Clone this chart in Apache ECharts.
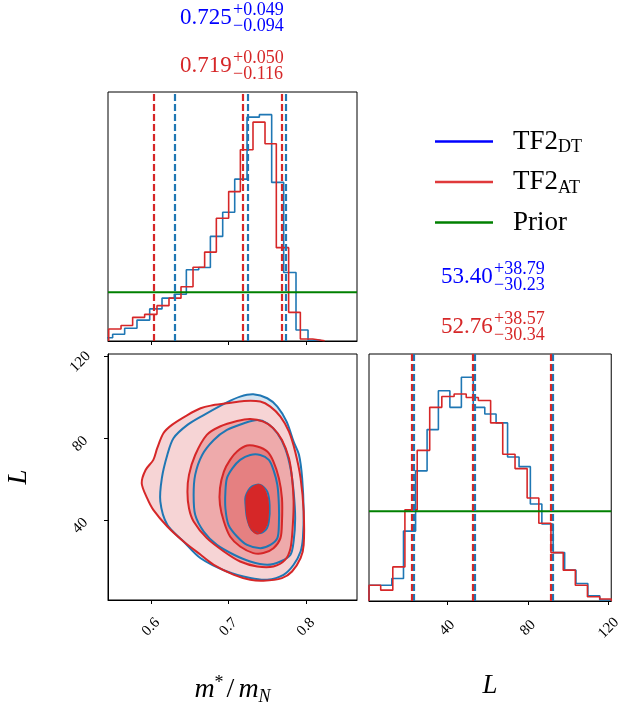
<!DOCTYPE html>
<html>
<head>
<meta charset="utf-8">
<script src="https://cdn.jsdelivr.net/npm/echarts@6/dist/echarts.min.js"></script>
<style>
html, body { margin: 0; padding: 0; background: #fff; }
#main { width: 624px; height: 707px; }
</style>
</head>
<body>
<div id="main"></div>
<script>
// axis limits and ticks
const mRange = [0.5445, 0.8658];
const LRange = [1.2, 121.3];
const mTicks = [0.6, 0.7, 0.8];
const LTicks = [40, 80, 120];

// m*/mN histograms (bin edges + heights, normalised)
const mEdgesDT = [0.5346, 0.5505, 0.5660, 0.5819, 0.5983, 0.6142, 0.6301, 0.6456, 0.6615, 0.6766, 0.6925, 0.7080, 0.7239, 0.7398, 0.7557, 0.7712, 0.7871, 0.8026, 0.8185];
const mHistDT = [0.013, 0.027, 0.051, 0.084, 0.129, 0.172, 0.188, 0.286, 0.295, 0.420, 0.517, 0.650, 0.899, 0.909, 0.637, 0.275, 0.044, 0.003];
const mEdgesAT = [0.5454, 0.5613, 0.5763, 0.5918, 0.6077, 0.6232, 0.6387, 0.6542, 0.6692, 0.6843, 0.7002, 0.7153, 0.7316, 0.7471, 0.7617, 0.7776, 0.7927, 0.8086, 0.8241];
const mHistAT = [0.048, 0.062, 0.095, 0.107, 0.142, 0.172, 0.218, 0.296, 0.357, 0.493, 0.600, 0.768, 0.879, 0.792, 0.375, 0.115, 0.008, 0.001];

// L histograms
const LEdgesDT = [1.2, 6.9, 12.5, 18.3, 24.3, 30.0, 35.6, 41.3, 47.0, 52.9, 58.6, 64.2, 69.9, 75.6, 81.2, 86.9, 92.5, 98.2, 103.8, 109.7, 115.6, 121.3];
const LHistDT = [0.064, 0.064, 0.091, 0.283, 0.527, 0.694, 0.851, 0.784, 0.906, 0.784, 0.757, 0.721, 0.583, 0.544, 0.393, 0.312, 0.196, 0.125, 0.071, 0.021, 0.004];
const LEdgesAT = [1.2, 7.0, 13.0, 19.0, 25.1, 31.3, 37.3, 43.4, 49.4, 55.4, 61.5, 67.5, 73.6, 79.6, 85.4, 91.4, 97.5, 103.5, 109.5, 115.6, 121.3];
const LHistAT = [0.064, 0.044, 0.138, 0.369, 0.610, 0.784, 0.828, 0.838, 0.824, 0.812, 0.721, 0.594, 0.536, 0.417, 0.315, 0.196, 0.125, 0.064, 0.017, 0.008];

// quantiles (16%, 50%, 84%)
const mQuantDT = [0.631, 0.725, 0.774];
const mQuantAT = [0.603, 0.719, 0.769];
const LQuantDT = [23.17, 53.40, 92.19];
const LQuantAT = [22.42, 52.76, 91.33];

// flat prior level in each 1D panel
const mPrior = 0.196;
const LPrior = 0.363;

// 2D contours [m*/mN, L]
const blueOuter = [[0.614, 60.7], [0.621, 72.0], [0.629, 80.2], [0.647, 86.7], [0.668, 91.5], [0.698, 97.7], [0.715, 100.5], [0.732, 101.6], [0.750, 99.7], [0.763, 95.6], [0.775, 88.3], [0.784, 78.5], [0.791, 72.0], [0.795, 60.7], [0.797, 44.4], [0.796, 31.4], [0.793, 24.9], [0.784, 18.4], [0.771, 13.5], [0.750, 11.1], [0.728, 11.9], [0.698, 15.1], [0.664, 21.6], [0.642, 29.8], [0.621, 37.9], [0.612, 49.3]];
const blueMid = [[0.655, 52.5], [0.657, 62.3], [0.666, 72.0], [0.681, 79.3], [0.698, 84.2], [0.720, 87.5], [0.737, 89.1], [0.750, 87.5], [0.763, 82.6], [0.773, 75.3], [0.780, 65.5], [0.784, 54.1], [0.786, 41.1], [0.784, 29.8], [0.780, 23.3], [0.767, 20.0], [0.750, 18.4], [0.728, 20.0], [0.707, 23.3], [0.685, 28.1], [0.668, 34.6], [0.657, 42.8]];
const blueIn = [[0.696, 54.1], [0.698, 60.7], [0.705, 65.5], [0.715, 69.6], [0.728, 72.0], [0.741, 72.0], [0.752, 69.6], [0.758, 64.7], [0.763, 57.4], [0.765, 47.6], [0.765, 37.9], [0.763, 31.4], [0.754, 28.1], [0.741, 26.5], [0.724, 28.1], [0.711, 32.2], [0.700, 37.9], [0.696, 46.0]];
const blueCore = [[0.722, 51.7], [0.730, 56.6], [0.741, 57.4], [0.750, 54.1], [0.753, 47.6], [0.752, 39.5], [0.748, 35.4], [0.739, 33.8], [0.730, 35.4], [0.724, 41.1], [0.722, 47.6]];
const redOuter = [[0.588, 58.2], [0.593, 64.7], [0.603, 69.6], [0.608, 75.3], [0.616, 82.6], [0.627, 86.7], [0.647, 91.5], [0.664, 94.8], [0.677, 96.1], [0.698, 97.2], [0.720, 98.4], [0.741, 98.1], [0.754, 95.6], [0.767, 90.7], [0.778, 83.4], [0.786, 73.7], [0.793, 60.7], [0.797, 44.4], [0.797, 28.1], [0.793, 21.6], [0.782, 15.1], [0.769, 11.9], [0.745, 10.6], [0.728, 11.1], [0.707, 13.5], [0.681, 18.4], [0.664, 23.3], [0.642, 29.8], [0.621, 37.1], [0.603, 45.2], [0.595, 50.9]];
const redMid = [[0.647, 54.1], [0.649, 62.3], [0.657, 72.0], [0.672, 81.8], [0.689, 85.9], [0.711, 88.6], [0.728, 89.6], [0.745, 88.3], [0.758, 85.0], [0.769, 79.3], [0.778, 70.4], [0.782, 60.7], [0.784, 49.3], [0.783, 37.9], [0.780, 26.5], [0.773, 20.8], [0.758, 17.6], [0.737, 17.6], [0.715, 20.0], [0.694, 24.9], [0.672, 31.4], [0.655, 39.5], [0.649, 46.0]];
const redIn = [[0.689, 55.8], [0.694, 63.9], [0.702, 69.6], [0.711, 73.7], [0.724, 76.6], [0.737, 76.1], [0.750, 73.7], [0.758, 68.8], [0.765, 60.7], [0.769, 50.9], [0.769, 39.5], [0.767, 31.4], [0.758, 26.5], [0.745, 24.1], [0.732, 24.1], [0.715, 27.3], [0.702, 32.2], [0.694, 39.5], [0.689, 47.6]];
const redCore = [[0.724, 52.5], [0.730, 55.8], [0.739, 57.4], [0.745, 55.8], [0.750, 50.9], [0.751, 44.4], [0.749, 37.9], [0.743, 34.6], [0.736, 33.8], [0.728, 37.1], [0.724, 42.8], [0.723, 49.3]];

const BLUE = '#1f77b4';
const RED = '#d62728';
const GREEN = '#008000';
const SERIF = '"Liberation Serif", "DejaVu Serif", serif';

// step outline of a histogram: horizontal at each bin height
function steps(edges, h) {
  const pts = [[edges[0], 0]];
  h.forEach((v, i) => pts.push([edges[i], v]));
  pts.push([edges[edges.length - 1], h[h.length - 1]]);
  pts.push([edges[edges.length - 1], 0]);
  return pts;
}

function quantLines(vals, color) {
  return {
    symbol: 'none', silent: true, animation: false, precision: 5,
    label: { show: false },
    lineStyle: { color: color, width: 2.2, type: [7, 3] },
    data: vals.map(v => ({ xAxis: v }))
  };
}

function histSeries(name, xi, edges, h, color, quants, z) {
  return {
    name: name, type: 'line', step: 'end',
    xAxisIndex: xi, yAxisIndex: xi,
    data: steps(edges, h),
    symbol: 'none',
    lineStyle: { color: color, width: 1.6 },
    itemStyle: { color: color },
    markLine: quantLines(quants, color),
    z: z
  };
}

const nameRich = {
  i: { fontFamily: SERIF, fontStyle: 'italic', fontSize: 28, lineHeight: 32, color: '#000' },
  r: { fontFamily: SERIF, fontSize: 28, lineHeight: 32, color: '#000', padding: [0, 4, 0, 3] },
  s: { fontFamily: SERIF, fontSize: 18, lineHeight: 22, verticalAlign: 'top', color: '#000' },
  b: { fontFamily: SERIF, fontStyle: 'italic', fontSize: 18, lineHeight: 20, verticalAlign: 'bottom', color: '#000' },
  L: { fontFamily: SERIF, fontStyle: 'italic', fontSize: 27, lineHeight: 32, color: '#000' }
};

function axisX(grid, range, ticks, labels, name, gap) {
  return {
    type: 'value', gridIndex: grid, min: range[0], max: range[1],
    axisLine: { show: true, onZero: false, lineStyle: { color: '#000', width: 1 } },
    axisTick: { show: true, length: 4, customValues: ticks, lineStyle: { color: '#000' } },
    axisLabel: {
      show: labels, customValues: ticks, rotate: 45, align: 'center', verticalAlign: 'middle',
      margin: 27, fontFamily: SERIF, fontSize: 15, color: '#000'
    },
    splitLine: { show: false },
    name: name, nameLocation: 'middle', nameGap: gap,
    nameTextStyle: { rich: nameRich }
  };
}

const layers = [
  { poly: blueOuter, fill: '#d6e4f0' },
  { poly: redOuter, fill: '#f6d4d5' },
  { poly: redMid, fill: '#eeaaab' },
  { poly: redIn, fill: '#e58081' },
  { poly: redCore, fill: RED },
  { poly: blueOuter, stroke: BLUE },
  { poly: blueMid, stroke: BLUE },
  { poly: blueIn, stroke: BLUE },
  { poly: blueCore, stroke: BLUE },
  { poly: redOuter, stroke: RED },
  { poly: redMid, stroke: RED },
  { poly: redIn, stroke: RED },
  { poly: redCore, stroke: RED }
];

// central value with stacked upper / lower errors
function errText(x, y, main, up, lo, color) {
  return [
    { type: 'text', x: x, y: y, style: { text: main, font: '23px ' + SERIF, fill: color, textVerticalAlign: 'middle' } },
    { type: 'text', x: x + 53, y: y - 8, style: { text: up, font: '18px ' + SERIF, fill: color, textVerticalAlign: 'middle' } },
    { type: 'text', x: x + 53, y: y + 8, style: { text: lo, font: '18px ' + SERIF, fill: color, textVerticalAlign: 'middle' } }
  ];
}

const chart = echarts.init(document.getElementById('main'));
chart.setOption({
  animation: false,
  backgroundColor: '#fff',
  grid: [
    { left: 108, top: 92, width: 249, height: 249, show: true, borderColor: '#000', borderWidth: 1 },
    { left: 108, top: 354, width: 249, height: 247, show: true, borderColor: '#000', borderWidth: 1 },
    { left: 369, top: 354, width: 248, height: 247, show: true, borderColor: '#000', borderWidth: 1 }
  ],
  xAxis: [
    axisX(0, mRange, mTicks, false, '', 0),
    axisX(1, mRange, mTicks, true, '{i|m}{s|*}{r|/}{i|m}{b|N}', 74),
    axisX(2, LRange, LTicks, true, '{L|L}', 69)
  ],
  yAxis: [
    { type: 'value', gridIndex: 0, min: 0, max: 1, show: false },
    {
      type: 'value', gridIndex: 1, min: LRange[0], max: LRange[1],
      axisLine: { show: true, onZero: false, lineStyle: { color: '#000' } },
      axisTick: { show: true, length: 4, customValues: LTicks, lineStyle: { color: '#000' } },
      axisLabel: {
        customValues: LTicks, rotate: 45, align: 'center', verticalAlign: 'top',
        margin: 33, fontFamily: SERIF, fontSize: 15, color: '#000'
      },
      splitLine: { show: false },
      name: '{L|L}', nameLocation: 'middle', nameGap: 73, nameRotate: 90,
      nameTextStyle: { rich: nameRich }
    },
    { type: 'value', gridIndex: 2, min: 0, max: 1, show: false }
  ],
  legend: {
    orient: 'vertical', left: 435, top: 128, itemGap: 12, padding: 0,
    icon: 'rect', itemWidth: 58, itemHeight: 2.5,
    data: [
      { name: 'TF2_DT', itemStyle: { color: '#0000ff' } },
      { name: 'TF2_AT', itemStyle: { color: '#e0393b' } },
      { name: 'Prior', itemStyle: { color: GREEN } }
    ],
    formatter: n => n === 'Prior' ? '{a|Prior}' : '{a|TF2}{b|' + n.slice(4) + '}',
    textStyle: {
      rich: {
        a: { fontFamily: SERIF, fontSize: 27, lineHeight: 30, color: '#000', padding: [0, 0, 0, 15] },
        b: { fontFamily: SERIF, fontSize: 18, lineHeight: 18, verticalAlign: 'bottom', color: '#000' }
      }
    }
  },
  graphic: [
    ...errText(180, 18, '0.725', '+0.049', '\u22120.094', '#0000ff'),
    ...errText(180, 66, '0.719', '+0.050', '\u22120.116', RED),
    ...errText(441, 277, '53.40', '+38.79', '\u221230.23', '#0000ff'),
    ...errText(441, 327, '52.76', '+38.57', '\u221230.34', RED)
  ],
  series: [
    histSeries('TF2_DT', 0, mEdgesDT, mHistDT, BLUE, mQuantDT, 3),
    histSeries('TF2_AT', 0, mEdgesAT, mHistAT, RED, mQuantAT, 3),
    histSeries('TF2_DT', 2, LEdgesDT, LHistDT, BLUE, LQuantDT, 3),
    histSeries('TF2_AT', 2, LEdgesAT, LHistAT, RED, LQuantAT, 3),
    {
      name: 'Prior', type: 'line', xAxisIndex: 0, yAxisIndex: 0, symbol: 'none',
      data: [[mRange[0], mPrior], [mRange[1], mPrior]],
      lineStyle: { color: GREEN, width: 2 }, itemStyle: { color: GREEN }, z: 4
    },
    {
      name: 'Prior', type: 'line', xAxisIndex: 2, yAxisIndex: 2, symbol: 'none',
      data: [[LRange[0], LPrior], [LRange[1], LPrior]],
      lineStyle: { color: GREEN, width: 2 }, itemStyle: { color: GREEN }, z: 4
    },
    {
      type: 'custom', xAxisIndex: 1, yAxisIndex: 1, clip: true, silent: true,
      data: layers.map(l => l.poly[0]),
      renderItem: (params, api) => {
        const l = layers[params.dataIndex];
        return {
          type: 'polygon', z2: params.dataIndex,
          shape: { points: l.poly.map(p => api.coord(p)), smooth: 0.3 },
          style: {
            fill: l.fill || 'none',
            stroke: l.stroke || 'none',
            lineWidth: l.stroke ? 2 : 0
          }
        };
      }
    }
  ]
});
</script>
</body>
</html>
